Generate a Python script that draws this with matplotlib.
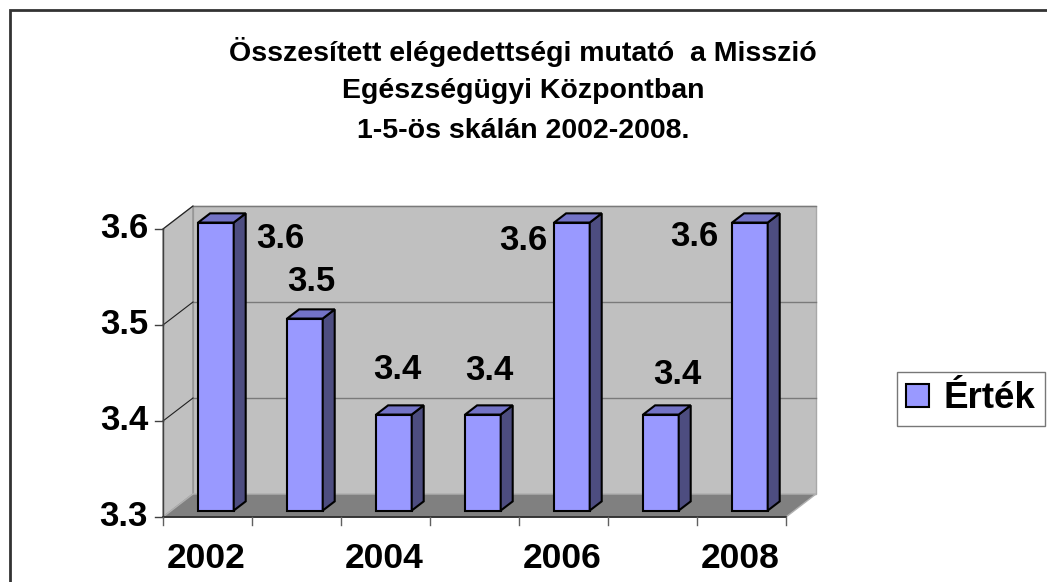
import matplotlib.pyplot as plt
from matplotlib.patches import Polygon, Rectangle, Patch
from matplotlib.lines import Line2D
from matplotlib.transforms import IdentityTransform

# adatok
years = [2002, 2003, 2004, 2005, 2006, 2007, 2008]
values = [3.6, 3.5, 3.4, 3.4, 3.6, 3.4, 3.6]
y_ticks = [3.3, 3.4, 3.5, 3.6]
title_lines = ["Összesített elégedettségi mutató  a Misszió",
               "Egészségügyi Központban",
               "1-5-ös skálán 2002-2008."]
legend_label = "Érték"

# címkék eltolása a hasáb tetejéhez képest (pixel)
label_nudge = [(64, -16), (6, 37), (3, 45), (6, 44), (-49, -18), (16, 40), (-56, -14)]

FONT = "Liberation Sans"
W, H = 1047, 582
fig = plt.figure(figsize=(W / 100, H / 100), dpi=100)
ax = fig.add_axes([163 / W, (H - 517) / H, (786 - 163) / W, (517 - 229) / H])
ax.set_xlim(0.5, len(years) + 0.5)
ax.set_ylim(y_ticks[0], y_ticks[-1])
ax.axis('off')

DX, DY = 30, 23  # mélység pixelben
ID = IdentityTransform()


def P(x, y, d=0.0):
    px, py = ax.transData.transform((x, y))
    return (px + d * DX, py + d * DY)


def poly(pts, fc, ec, lw=1.0, z=1):
    fig.add_artist(Polygon(pts, closed=True, facecolor=fc, edgecolor=ec,
                           linewidth=lw, transform=ID, zorder=z))


def line(p, q, color, lw=1.0, z=2):
    fig.add_artist(Line2D([p[0], q[0]], [p[1], q[1]], color=color,
                          linewidth=lw, transform=ID, zorder=z))


x0, x1 = 0.5, len(years) + 0.5
y0, y1 = y_ticks[0], y_ticks[-1]

# falak és padló
poly([P(x0, y0, 1), P(x1, y0, 1), P(x1, y1, 1), P(x0, y1, 1)], '#C0C0C0', '#A8A8A8')
poly([P(x0, y0, 0), P(x0, y0, 1), P(x0, y1, 1), P(x0, y1, 0)], '#C0C0C0', '#909090')
poly([P(x0, y0, 0), P(x1, y0, 0), P(x1, y0, 1), P(x0, y0, 1)], '#808080', '#B0B0B0')

# rácsvonalak
for t in y_ticks[1:]:
    line(P(x0, t, 1), P(x1, t, 1), '#7a7a7a', 1.0)
    line(P(x0, t, 0), P(x0, t, 1), '#202020', 0.8)

# tengelyek
line(P(x0, y0), P(x0, y1), '#404040', 1.0, 3)
line(P(x0, y0), P(x1, y0), '#202020', 1.2, 3)
for t in y_ticks:
    a = P(x0, t)
    line((a[0] - 8, a[1]), a, '#404040', 1.0, 3)
    fig.text(a[0] - 15, a[1], f"{t:.1f}", transform=ID, ha='right', va='center',
             fontsize=25, fontweight='bold', family=FONT)
for k in range(len(years) + 1):
    a = P(x0 + k, y0)
    line(a, (a[0], a[1] - 8), '#606060', 1.0, 3)
for i, yr in enumerate(years):
    if i % 2 == 0:
        a = P(i + 1, y0)
        fig.text(a[0] - 1, a[1] - 41, str(yr), transform=ID, ha='center', va='center',
                 fontsize=25.5, fontweight='bold', family=FONT)

# hasábok
f0, f1, hw = 0.28, 0.68, 0.2
for i, v in enumerate(values):
    c = i + 1
    poly([P(c - hw, y0, f0), P(c + hw, y0, f0), P(c + hw, v, f0), P(c - hw, v, f0)],
         '#9999FF', 'black', 1.5, 4)
    poly([P(c + hw, y0, f0), P(c + hw, y0, f1), P(c + hw, v, f1), P(c + hw, v, f0)],
         '#4D4D80', 'black', 1.5, 4)
    poly([P(c - hw, v, f0), P(c + hw, v, f0), P(c + hw, v, f1), P(c - hw, v, f1)],
         '#7373C6', 'black', 1.5, 4)
    top = P(c, v, f0)
    dx, dy = label_nudge[i]
    fig.text(top[0] + dx, top[1] + dy, f"{v:.1f}", transform=ID, ha='center', va='center',
             fontsize=25, fontweight='bold', family=FONT, zorder=6)

# cím
for j, s in enumerate(title_lines):
    fig.text(523 / W, 1 - (52 + 39.5 * j) / H, s, ha='center', va='center',
             fontsize=20.5, fontweight='bold', family=FONT)

# jelmagyarázat
leg = fig.legend(handles=[Patch(facecolor='#9999FF', edgecolor='black', linewidth=1.5,
                                label=legend_label)],
                 loc='center left', bbox_to_anchor=(897 / W, 1 - 399 / H),
                 prop={'family': FONT, 'weight': 'bold', 'size': 26.5},
                 frameon=True, fancybox=False, handlelength=0.62, handleheight=0.62,
                 handletextpad=0.4, borderpad=0.25, borderaxespad=0)
leg.get_frame().set_edgecolor('#555555')
leg.get_frame().set_linewidth(1.0)

# külső keret
fig.add_artist(Rectangle((10 / W, -0.2), 1.2, (H - 10) / H + 0.2, transform=fig.transFigure,
                         fill=False, edgecolor='#333333', linewidth=2, zorder=10))

fig.savefig("out.png", dpi=100)
